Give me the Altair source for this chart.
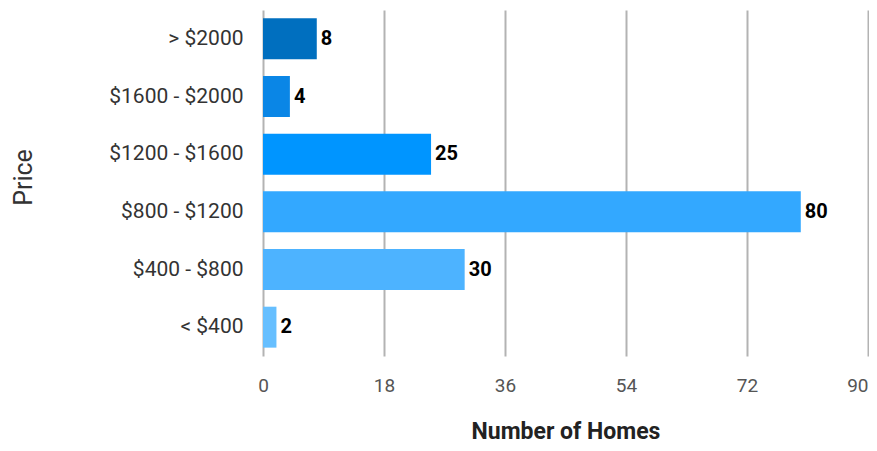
import altair as alt
import pandas as pd

categories = ["> $2000", "$1600 - $2000", "$1200 - $1600", "$800 - $1200", "$400 - $800", "< $400"]
homes = [8, 4, 25, 80, 30, 2]
colors = ["#006FBF", "#0A86E6", "#0095FF", "#33A8FF", "#4DB3FF", "#66BFFF"]
x_ticks = [0, 18, 36, 54, 72, 90]

df = pd.DataFrame({"Price": categories, "Homes": homes, "Color": colors})

base = alt.Chart(df).encode(
    y=alt.Y("Price:N", sort=categories,
            scale=alt.Scale(paddingInner=0.29, paddingOuter=0.145),
            axis=alt.Axis(title="Price", titleFontSize=25, titleFontWeight="normal",
                          titleColor="#333333", titleFont="Roboto", titlePadding=0,
                          titleX=-232, titleY=167, titleAngle=-90,
                          titleBaseline="alphabetic", titleAlign="center",
                          labelFont="Roboto", labelFontSize=21, labelColor="#333333",
                          labelPadding=20, ticks=False, domain=False, grid=False)),
)

bars = base.mark_bar().encode(
    x=alt.X("Homes:Q", scale=alt.Scale(domain=[0, 90], nice=False),
            axis=alt.Axis(title="Number of Homes", values=x_ticks, titleFont="Roboto",
                          titleFontSize=23, titleFontWeight="bold", titleColor="#222222",
                          titleY=82, titleBaseline="alphabetic",
                          labelFont="Roboto", labelFontSize=19, labelColor="#555555",
                          labelPadding=20, labelFlush=False, labelOverlap=False,
                          labelAlign=alt.ExprRef(expr="datum.value >= 90 ? 'right' : 'center'"),
                          ticks=False, domain=False,
                          gridColor="#b3b3b3", gridWidth=2, gridOpacity=1)),
    color=alt.Color("Color:N", scale=None),
)

text = base.mark_text(align="left", baseline="middle", dx=4, font="Roboto",
                      fontSize=20, fontWeight="bold", color="#000000").encode(
    x="Homes:Q", text="Homes:Q")

chart = (bars + text).properties(
    width=605, height=346,
    padding={"left": 255, "top": 2, "right": 1, "bottom": 87},
    autosize=alt.AutoSizeParams(type="none"),
).configure_view(stroke=None)

chart.save("out.html", embed_options={"renderer": "svg", "actions": False})
